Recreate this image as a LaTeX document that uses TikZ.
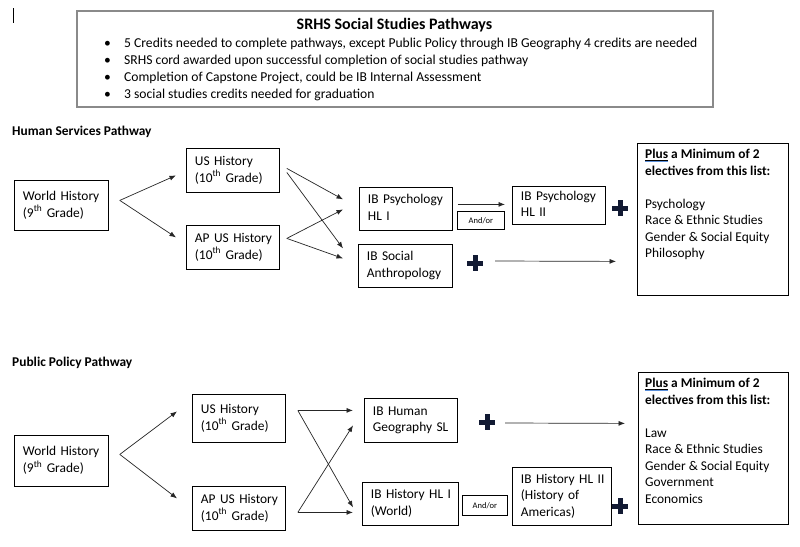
\documentclass[tikz,border=0pt]{standalone}
\usepackage{fontspec}
\setmainfont{Carlito}
\usetikzlibrary{arrows.meta,calc}
\definecolor{plusc}{HTML}{121A33}
\definecolor{ulblue}{HTML}{5B8FD9}
\definecolor{framegray}{HTML}{8A8A8A}
\newcommand\plusul{{\setbox0\hbox{Plus}\rlap{\color{ulblue}\rule[-3.6pt]{\wd0}{0.9pt}}\underline{\box0}}}
\newcommand\lines[1]{\begin{tabular}{@{}l@{}}#1\end{tabular}}
\tikzset{
  box/.style={draw=black, line width=0.8pt, anchor=north west, align=left,
    inner xsep=8.5pt, inner ysep=2pt, font=\fontsize{13.4}{16.5}\selectfont},
  txt/.style={anchor=north west, align=left, inner sep=0pt, font=\fontsize{13.4}{16.5}\selectfont},
  hdr/.style={anchor=west, inner sep=0pt, font=\fontsize{13.4}{16.5}\selectfont\bfseries},
  bul/.style={anchor=west, inner sep=0pt, font=\fontsize{13.6}{16}\selectfont},
  arr/.style={draw=black!85, line width=0.7pt, -{Latex[length=6.5pt,width=5pt]}},
  smallbox/.style={draw=black, line width=0.8pt, anchor=north west, inner sep=0pt,
    font=\fontsize{8.5}{10}\selectfont},
  plusmark/.style={minimum size=16pt, inner sep=0pt,
    path picture={\draw[plusc, line width=5pt]
      (path picture bounding box.west) -- (path picture bounding box.east)
      (path picture bounding box.north) -- (path picture bounding box.south);}}
}
\begin{document}
\begin{tikzpicture}[x=1pt,y=-1pt]
\fill[white] (0,0) rectangle (800,546);
\useasboundingbox (0,0) rectangle (800,546);
% cursor mark
\draw[black, line width=0.8pt] (13,8) -- (13,23);
% top information box
\node[draw=framegray, line width=1.5pt, anchor=north west, minimum width=636pt, minimum height=96pt, inner sep=0pt] (tbox) at (76,10) {};
\node[anchor=center, inner sep=0pt, font=\fontsize{16}{18}\selectfont\bfseries] (title) at (394.5,25) {SRHS Social Studies Pathways};
\node[bul] (b1) at (104,44) {\textbullet};
\node[bul] (t1) at (124,44) {5 Credits needed to complete pathways, except Public Policy through IB Geography 4 credits are needed};
\node[bul] (b2) at (104,61) {\textbullet};
\node[bul] (t2) at (124,61) {SRHS cord awarded upon successful completion of social studies pathway};
\node[bul] (b3) at (104,78) {\textbullet};
\node[bul] (t3) at (124,78) {Completion of Capstone Project, could be IB Internal Assessment};
\node[bul] (b4) at (104,95) {\textbullet};
\node[bul] (t4) at (124,95) {3 social studies credits needed for graduation};

% ================= Human Services Pathway =================
\node[hdr] (hsh) at (12,132) {Human Services Pathway};
\node[box, minimum width=94pt, minimum height=50pt, text width=77pt] (hw) at (14,180) {\lines{World History\\(9\textsuperscript{th} Grade)}};
\node[box, minimum width=93pt, minimum height=44pt, text width=76pt] (hus) at (186,148) {\lines{US History\\(10\textsuperscript{th} Grade)}};
\node[box, minimum width=93pt, minimum height=44pt, text width=76pt] (hap) at (186,225) {\lines{AP US History\\(10\textsuperscript{th} Grade)}};
\node[box, minimum width=93pt, minimum height=43pt, text width=76pt] (hp1) at (359,187) {\lines{IB Psychology\\HL I}};
\node[smallbox, minimum width=47pt, minimum height=18pt] (hand) at (457,211) {And/or};
\node[box, minimum width=93pt, minimum height=38pt, text width=76pt] (hp2) at (512,186) {\lines{IB Psychology\\HL II}};
\node[box, minimum width=94pt, minimum height=43pt, text width=77pt] (hsa) at (358,244) {\lines{IB Social\\Anthropology}};
\node[plusmark] (hpl1) at (620,208) {};
\node[plusmark] (hpl2) at (475,263) {};
\node[draw=black, line width=0.8pt, anchor=north west, minimum width=151pt, minimum height=152pt, inner sep=0pt] (hel) at (637,143) {};
\node[txt] (helt) at (645,149) {\textbf{\plusul{} a Minimum of 2}\\\textbf{electives from this list:}\\[16.5pt]Psychology\\Race \& Ethnic Studies\\Gender \& Social Equity\\Philosophy};

\draw[arr] ($(hw.east)+(11,-5)$) -- ($(hus.west)+(-10,5)$);
\draw[arr] ($(hw.east)+(11,-5)$) -- ($(hap.west)+(-10,-10)$);
\draw[arr] ($(hus.east)+(7,-2)$) -- ($(hp1.west)+(-16,-9.5)$);
\draw[arr] ($(hus.east)+(7,2)$) -- ($(hsa.west)+(-15,-17.5)$);
\draw[arr] ($(hap.east)+(7,-9)$) -- ($(hp1.west)+(-16,0.5)$);
\draw[arr] ($(hap.east)+(7,-9)$) -- ($(hsa.west)+(-15,-7.5)$);
\draw[arr] ($(hp1.east)+(5,-4.5)$) -- ($(hp2.west)+(-7,-1)$);
\draw[arr] ($(hpl2.east)+(12,-2)$) -- ($(hel.west)+(-21,42)$);

% ================= Public Policy Pathway =================
\node[hdr] (pph) at (12,363) {Public Policy Pathway};
\node[box, minimum width=94pt, minimum height=51pt, text width=77pt] (pw) at (14,435) {\lines{World History\\(9\textsuperscript{th} Grade)}};
\node[box, minimum width=93pt, minimum height=48pt, text width=76pt] (pus) at (192,394) {\lines{US History\\(10\textsuperscript{th} Grade)}};
\node[box, minimum width=93pt, minimum height=44pt, text width=76pt] (pap) at (192,486) {\lines{AP US History\\(10\textsuperscript{th} Grade)}};
\node[box, minimum width=93pt, minimum height=44pt, text width=76pt] (phg) at (364,398) {\lines{IB Human\\Geography SL}};
\node[box, minimum width=96pt, minimum height=43pt, text width=79pt] (phl1) at (362,482) {\lines{IB History HL I\\(World)}};
\node[smallbox, minimum width=45pt, minimum height=20pt] (pand) at (462,495) {And/or};
\node[box, minimum width=99pt, minimum height=58pt, text width=82pt] (phl2) at (512,467) {\lines{IB History HL II\\(History of\\Americas)}};
\node[plusmark] (ppl1) at (487,422) {};
\node[plusmark] (ppl2) at (620,506) {};
\node[draw=black, line width=0.8pt, anchor=north west, minimum width=150pt, minimum height=152pt, inner sep=0pt] (pel) at (638,372) {};
\node[txt] (pelt) at (645,378) {\textbf{\plusul{} a Minimum of 2}\\\textbf{electives from this list:}\\[16.5pt]Law\\Race \& Ethnic Studies\\Gender \& Social Equity\\Government\\Economics};

\draw[arr] ($(pw.east)+(11,-6.5)$) -- ($(pus.west)+(-15,-7)$);
\draw[arr] ($(pw.east)+(11,-6.5)$) -- ($(pap.west)+(-15,-10)$);
\draw[arr] ($(pus.east)+(12,-8)$) -- ($(phg.west)+(-11,-10)$);
\draw[arr] ($(pus.east)+(12,-8)$) -- ($(phl1.west)+(-9,3.5)$);
\draw[arr] ($(pap.east)+(12,4)$) -- ($(phg.west)+(-11,5)$);
\draw[arr] ($(pap.east)+(12,4)$) -- ($(phl1.west)+(-9,8.5)$);
\draw[arr] ($(ppl1.east)+(10,1)$) -- ($(pel.west)+(-13,-25)$);
\end{tikzpicture}
\end{document}
